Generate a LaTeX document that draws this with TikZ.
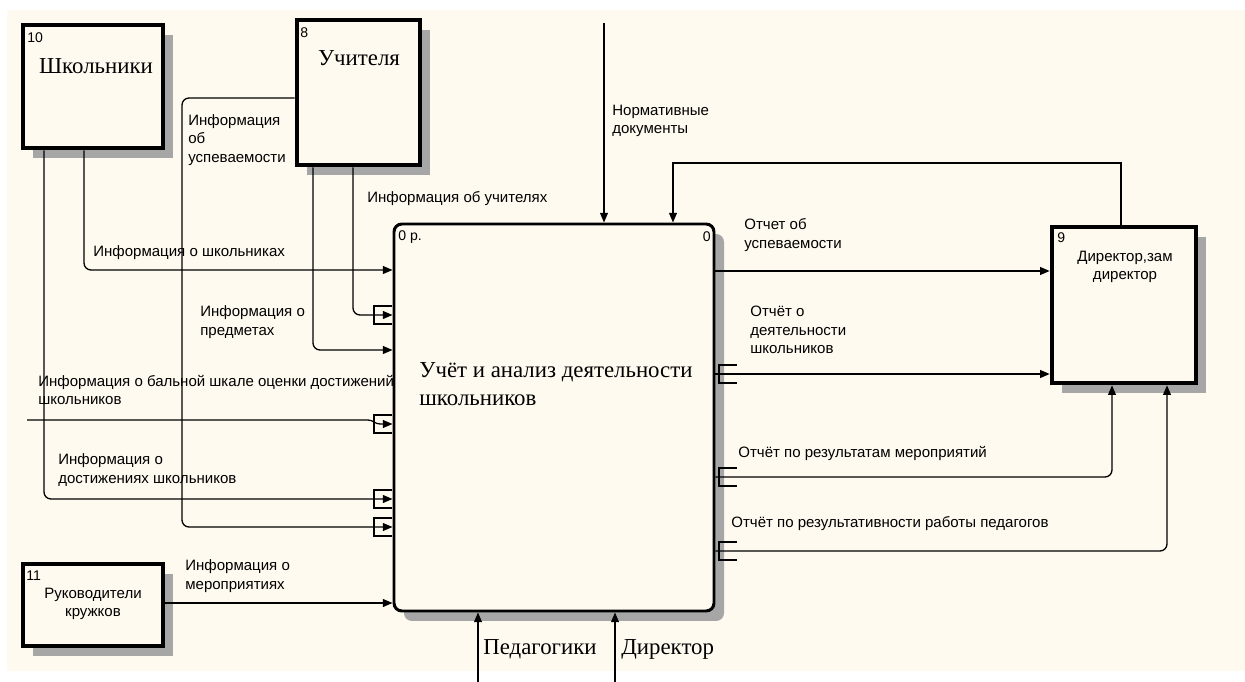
\documentclass[tikz,border=0pt]{standalone}
\usepackage{fontspec}
\setmainfont{Liberation Serif}
\setsansfont{Liberation Sans}
\usetikzlibrary{positioning,arrows.meta,fit,shadows}
\definecolor{paper}{RGB}{255,250,240}

\begin{document}
\begin{tikzpicture}[
  x=0.02cm, y=-0.02cm,
  lbl/.style={font=\sffamily\fontsize{8.55}{10.5}\selectfont,inner sep=0pt,align=left,anchor=west},
  num/.style={font=\sffamily\fontsize{8}{9}\selectfont,inner sep=0pt},
  big/.style={font=\fontsize{13}{15.9}\selectfont,inner sep=0pt,align=left},
  hatch/.style={drop shadow={shadow xshift=0.2cm,shadow yshift=-0.2cm,fill=black!35,opacity=1}},
  extbox/.style={draw,line width=2.6pt,fill=paper,inner sep=0pt,hatch},
  actbox/.style={draw,line width=1.7pt,rounded corners=4.5pt,fill=paper,inner sep=0pt,hatch},
  arr/.style={-{Triangle[length=5.5pt,width=4.5pt]},line width=0.75pt},
  tunnel/.pic={\draw[line width=0.75pt] (18,-9) -- (0,-9) -- (0,9) -- (18,9);}
]
\useasboundingbox (0,0) rectangle (1245,682);
\fill[white] (0,0) rectangle (1245,682);
\fill[paper] (7,10) rectangle (1245,671);

\node[extbox,fit={(23,25) (163,148)}] (sch) {};
\node[extbox,fit={(297,20) (420,165)}] (uch) {};
\node[extbox,fit={(23,564) (163,646)}] (ruk) {};
\node[extbox,fit={(1052,227) (1196,383)}] (dir) {};
\node[actbox,fit={(394,224) (714,611)}] (act) {};

\node[num,anchor=west] (schnum) at (27,38) {10};
\node[big,anchor=center] (schtxt) at (96,66) {Школьники};
\node[num,anchor=west] (uchnum) at (300,33) {8};
\node[big,anchor=center] (uchtxt) at (359,58) {Учителя};
\node[num,anchor=west] (ruknum) at (26,576) {11};
\node[lbl,align=center,anchor=center] (ruktxt) at (93,604) {Руководители\\кружков};
\node[num,anchor=west] (dirnum) at (1057,238) {9};
\node[lbl,align=center,anchor=center] (dirtxt) at (1125,267) {Директор,зам\\директор};
\node[num,anchor=west] (actnum) at (398,237) {0 р.};
\node[num,anchor=east] (actnode) at (711,237) {0};
\node[big,anchor=west] (acttxt) at (419,384) {Учёт и анализ деятельности\\школьников};

\coordinate (balin) at (27,420);
\coordinate (normin) at (604,23);
\coordinate (pedin) at (478,682);
\coordinate (dirin) at (615,682);

\draw[arr,rounded corners=4pt] (84,0 |- sch.south) |- (act.west |- 0,270);
\draw[arr,rounded corners=4pt] (353,0 |- uch.south) |- (act.west |- 0,315);
\draw[arr,rounded corners=4pt] (313,0 |- uch.south) |- (act.west |- 0,350);
\draw[arr] (balin) -- (368,420) to[out=0,in=180] (380,424) -- (act.west |- 0,424);
\draw[arr,rounded corners=4pt] (44,0 |- sch.south) |- (act.west |- 0,499);
\draw[arr,rounded corners=4pt] (uch.west |- 0,98) -| (182,527) -- (act.west |- 0,527);
\draw[arr] (ruk.east |- 0,603) -- (act.west |- 0,603);
\draw[arr] (act.east |- 0,271) -- (dir.west |- 0,271);
\draw[arr] (act.east |- 0,374) -- (dir.west |- 0,374);
\draw[arr,rounded corners=4pt] (act.east |- 0,477) -| (dir.south -| 1112,0);
\draw[arr,rounded corners=4pt] (act.east |- 0,551) -| (dir.south -| 1167,0);
\draw[arr] (dir.north -| 1121,0) |- (673,163) -- (act.north -| 673,0);
\draw[arr] (normin) -- (act.north -| 604,0);
\draw[arr] (pedin) -- (act.south -| 478,0);
\draw[arr] (dirin) -- (act.south -| 615,0);

\pic at (374,315) {tunnel};
\pic at (374,424) {tunnel};
\pic at (374,499) {tunnel};
\pic at (374,527) {tunnel};
\pic at (719,374) {tunnel};
\pic at (719,477) {tunnel};
\pic at (719,551) {tunnel};

\node[lbl] (lbluspev) at (188,140) {Информация\\об\\успеваемости};
\node[lbl] (lblsch) at (93,253) {Информация о школьниках};
\node[lbl] (lbluch) at (367,199) {Информация об учителях};
\node[lbl] (lblpred) at (200,322) {Информация о\\предметах};
\node[lbl] (lblbal) at (38,390) {Информация о бальной шкале оценки достижений\\школьников};
\node[lbl] (lbldost) at (58,470) {Информация о\\достижениях школьников};
\node[lbl] (lblmer) at (185,576) {Информация о\\мероприятиях};
\node[lbl] (lblnorm) at (612,121) {Нормативные\\документы};
\node[lbl] (lblotusp) at (744,235) {Отчет об\\успеваемости};
\node[lbl] (lblotdeyat) at (750,330) {Отчёт о\\деятельности\\школьников};
\node[lbl] (lblotmer) at (738,453) {Отчёт по результатам мероприятий};
\node[lbl] (lblotped) at (731,524) {Отчёт по результативности работы педагогов};
\node[big,anchor=west] (lblped) at (483,649) {Педагогики};
\node[big,anchor=west] (lbldir) at (621,649) {Директор};
\end{tikzpicture}
\end{document}
